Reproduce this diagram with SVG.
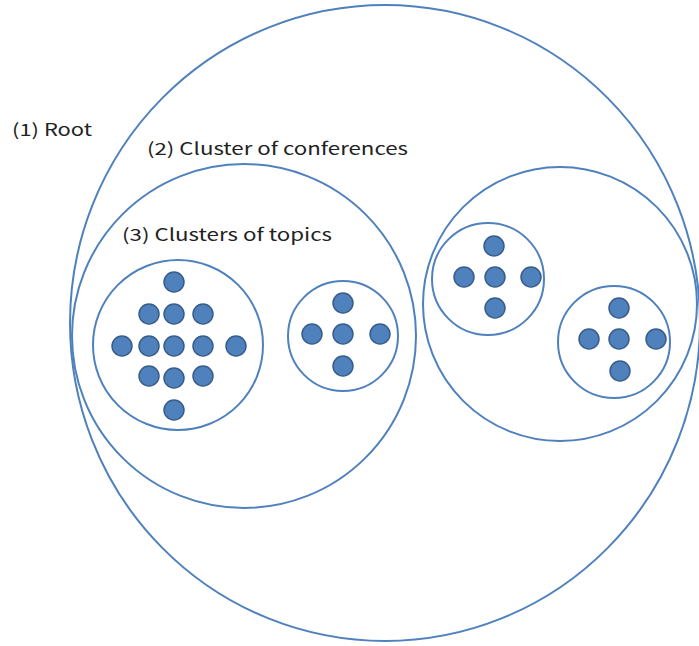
<svg xmlns="http://www.w3.org/2000/svg" width="699" height="646" viewBox="0 0 699 646">
<style>
.ring{fill:none;stroke:#4F81BD;stroke-width:2}
.dot{fill:#4F81BD;stroke:#385D8A;stroke-width:1.5}
.lbl{font-family:"Noto Sans CJK JP","Noto Sans",sans-serif;font-size:17px;fill:#222}
</style>
<rect width="699" height="646" fill="#fff"/>
<g id="root">
<ellipse class="ring" cx="385" cy="323" rx="315" ry="318"/>
<text class="lbl" x="12" y="136" textLength="80" lengthAdjust="spacingAndGlyphs">(1) Root</text>
</g>
<g id="conf1">
<circle class="ring" cx="244" cy="336" r="172"/>
<text class="lbl" x="147" y="155" textLength="261" lengthAdjust="spacingAndGlyphs">(2) Cluster of conferences</text>
</g>
<g id="conf2">
<circle class="ring" cx="560" cy="304" r="137"/>
</g>
<g id="topicA">
<circle class="ring" cx="178" cy="345" r="85"/>
<text class="lbl" x="122" y="241" textLength="210" lengthAdjust="spacingAndGlyphs">(3) Clusters of topics</text>
<circle class="dot" cx="174" cy="282" r="10"/>
<circle class="dot" cx="149" cy="314" r="10"/>
<circle class="dot" cx="174" cy="314" r="10"/>
<circle class="dot" cx="203" cy="314" r="10"/>
<circle class="dot" cx="122" cy="346" r="10"/>
<circle class="dot" cx="149" cy="346" r="10"/>
<circle class="dot" cx="174" cy="346" r="10"/>
<circle class="dot" cx="203" cy="346" r="10"/>
<circle class="dot" cx="236" cy="346" r="10"/>
<circle class="dot" cx="149" cy="376" r="10"/>
<circle class="dot" cx="174" cy="378" r="10"/>
<circle class="dot" cx="203" cy="376" r="10"/>
<circle class="dot" cx="174" cy="410" r="10"/>
</g>
<g id="topicB">
<circle class="ring" cx="343" cy="336" r="55"/>
<circle class="dot" cx="343" cy="303" r="10"/>
<circle class="dot" cx="312" cy="334" r="10"/>
<circle class="dot" cx="343" cy="334" r="10"/>
<circle class="dot" cx="380" cy="334" r="10"/>
<circle class="dot" cx="343" cy="366" r="10"/>
</g>
<g id="topicC">
<circle class="ring" cx="488" cy="279" r="56"/>
<circle class="dot" cx="494" cy="246" r="10"/>
<circle class="dot" cx="464" cy="277" r="10"/>
<circle class="dot" cx="495" cy="277" r="10"/>
<circle class="dot" cx="531" cy="277" r="10"/>
<circle class="dot" cx="495" cy="308" r="10"/>
</g>
<g id="topicD">
<circle class="ring" cx="614" cy="342" r="56"/>
<circle class="dot" cx="619" cy="308" r="10"/>
<circle class="dot" cx="589" cy="339" r="10"/>
<circle class="dot" cx="619" cy="339" r="10"/>
<circle class="dot" cx="656" cy="339" r="10"/>
<circle class="dot" cx="620" cy="371" r="10"/>
</g>
<g id="connectors"></g>
</svg>
